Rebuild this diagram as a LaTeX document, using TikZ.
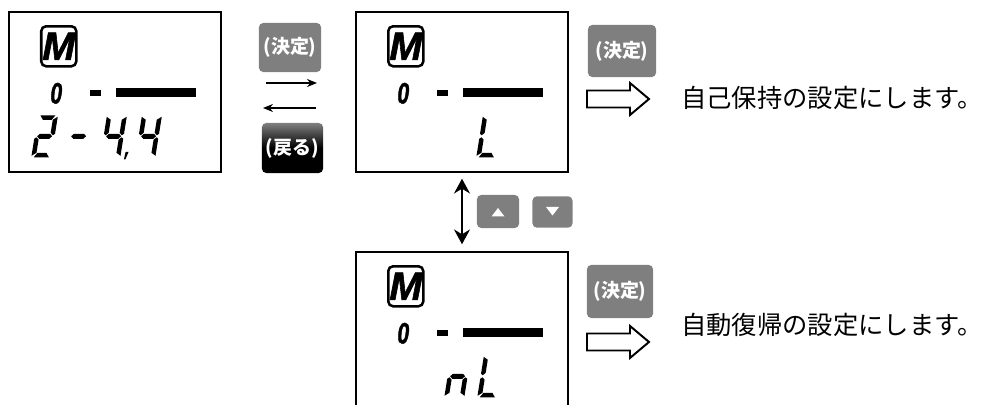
\documentclass[tikz,border=0pt]{standalone}
\usepackage{fontspec}
\usepackage{graphicx}
\usetikzlibrary{arrows.meta, positioning, calc}
\newfontfamily\jpfont{Noto Sans CJK JP}
\newfontfamily\lcdfont{Liberation Sans}[BoldItalicFeatures={FakeBold=1.5}]
\definecolor{keygray}{RGB}{127, 127, 127}

% seven segment pieces, origin at the bottom left of a digit
\tikzset{
  lcdseg/.style={xslant=0.16},
  pics/sega/.style={code={\fill[lcdseg] (2.5,-42) -- (17.5,-42) -- (14.5,-37.5) -- (5.5,-37.5) -- cycle;}},
  pics/segb/.style={code={\fill[lcdseg] (20,-40.5) -- (20,-23.5) -- (18,-22) -- (15.5,-24.5) -- (15.5,-37.5) -- cycle;}},
  pics/segc/.style={code={\fill[lcdseg] (20,-18.5) -- (18,-20) -- (15.5,-17.5) -- (15.5,-4.5) -- (20,-1.5) -- cycle;}},
  pics/segd/.style={code={\fill[lcdseg] (2.5,0) -- (17.5,0) -- (14.5,-4.5) -- (5.5,-4.5) -- cycle;}},
  pics/sege/.style={code={\fill[lcdseg] (0,-18.5) -- (2,-20) -- (4.5,-17.5) -- (4.5,-4.5) -- (0,-1.5) -- cycle;}},
  pics/segf/.style={code={\fill[lcdseg] (0,-40.5) -- (0,-23.5) -- (2,-22) -- (4.5,-24.5) -- (4.5,-37.5) -- cycle;}},
  pics/segg/.style={code={\fill[lcdseg] (2.5,-21) -- (5,-23.5) -- (15,-23.5) -- (17.5,-21) -- (15,-18.5) -- (5,-18.5) -- cycle;}},
  pics/segp/.style={code={\fill[lcdseg] (24.5,-5.5) -- (27.5,-5.5) -- (25.5,2) -- (24,2) -- cycle;}},
  pics/segdigit/.style={code={\foreach \s in {#1}{\pic {seg\s};}}},
  pics/lcdhead/.style={code={
    \node[badge] (-badge) at (50.5,35) {M};
    \node[lcdzero] (-zero) at (48,82) {\scalebox{0.72}[1]{0}};
    \fill (81.5,79) rectangle (92.5,85);
    \fill (108,77) rectangle (187.5,86);
  }},
  pics/hollowarrow/.style={code={
    \draw[line width=1.4pt, fill=white, line join=miter]
      (0,-8.5) -- (43,-8.5) -- (43,-16) -- (62,0) -- (43,16) -- (43,8.5) -- (0,8.5) -- cycle;
  }},
}

\begin{document}
\begin{tikzpicture}[x=0.025cm, y=-0.025cm,
  display/.style={draw, line width=1pt, minimum width=5.3cm, minimum height=4cm, inner sep=0},
  badge/.style={draw, line width=1.8pt, rounded corners=0.12cm, minimum width=0.875cm,
    minimum height=1cm, inner sep=0, font=\lcdfont\bfseries\itshape\fontsize{28}{28}\selectfont},
  lcdzero/.style={inner sep=0, font=\lcdfont\bfseries\itshape\fontsize{21}{21}\selectfont},
  key/.style={fill=keygray, rounded corners=3pt, text=white, inner sep=0,
    font=\jpfont\bfseries\fontsize{13.5}{13.5}\selectfont},
  backkey/.style={key, fill=none, top color=keygray, bottom color=black, middle color=black},
  msg/.style={anchor=west, inner sep=0, font=\jpfont\fontsize{18}{21}\selectfont},
  thinarrow/.style={line width=1pt, -{Stealth[length=0.25cm, width=0.2cm]}},
  dblarrow/.style={line width=1pt, {Stealth[length=0.37cm, width=0.4cm]}-{Stealth[length=0.37cm, width=0.4cm]}}
]
\useasboundingbox (0,0) rectangle (982,405);

% displays
\node[display] (disp1) at (115,92) {};
\node[display] (disp2) at (462,92) {};
\node[display] (disp3) at (462,332) {};

\pic (hd1) at (disp1.north west) {lcdhead};
\pic (hd2) at (disp2.north west) {lcdhead};
\pic (hd3) at (disp3.north west) {lcdhead};

% 2-4.4
\pic at ($(disp1.north west)+(23,146)$) {segdigit={a,b,g,e,d}};
\pic at ($(disp1.north west)+(57,146)$) {segdigit={g}};
\pic at ($(disp1.north west)+(92,146)$) {segdigit={f,g,b,c,p}};
\pic at ($(disp1.north west)+(127,146)$) {segdigit={f,g,b,c}};
% L
\pic at ($(disp2.north west)+(121,146)$) {segdigit={f,e,d}};
% nL
\pic at ($(disp3.north west)+(89,146)$) {segdigit={g,e,c}};
\pic at ($(disp3.north west)+(122,146)$) {segdigit={f,e,d}};

% keys between first two displays
\node[key, minimum width=1.55cm, minimum height=1.225cm] (ok1) at (290,47.5) {(決定)};
\node[backkey, minimum width=1.525cm, minimum height=1.25cm] (back1) at (292.5,148) {(戻る)};
\coordinate (fwd-s) at (266,83);
\coordinate (fwd-e) at (317,83);
\coordinate (bwd-s) at (316,108);
\coordinate (bwd-e) at (263,108);
\draw[thinarrow] (fwd-s) -- (fwd-e);
\draw[thinarrow] (bwd-s) -- (bwd-e);

% up / down
\draw[dblarrow, shorten <=0.15cm, shorten >=0.175cm] (disp2.south) -- (disp3.north);
\node[key, minimum width=1.05cm, minimum height=0.825cm] (up) at (498,211.5) {};
\node[key, minimum width=1.0cm, minimum height=0.78cm] (down) at (552.5,212) {};
\fill[white] ($(up.center)+(-6.5,5)$) -- ($(up.center)+(6.5,5)$) -- ($(up.center)+(0,-3.5)$) -- cycle;
\fill[white] ($(down.center)+(-6.5,-5)$) -- ($(down.center)+(6.5,-5)$) -- ($(down.center)+(0,3.5)$) -- cycle;

% results
\node[key, minimum width=1.7cm, minimum height=1.3cm] (ok2) at (622,51) {(決定)};
\pic at (587,99) {hollowarrow};
\node[msg] (msg1) at (681,98) {自己保持の設定にします。};

\node[key, minimum width=1.65cm, minimum height=1.325cm] (ok3) at (620,291.5) {(決定)};
\pic at (587,342) {hollowarrow};
\node[msg] (msg2) at (681,325) {自動復帰の設定にします。};
\end{tikzpicture}
\end{document}
